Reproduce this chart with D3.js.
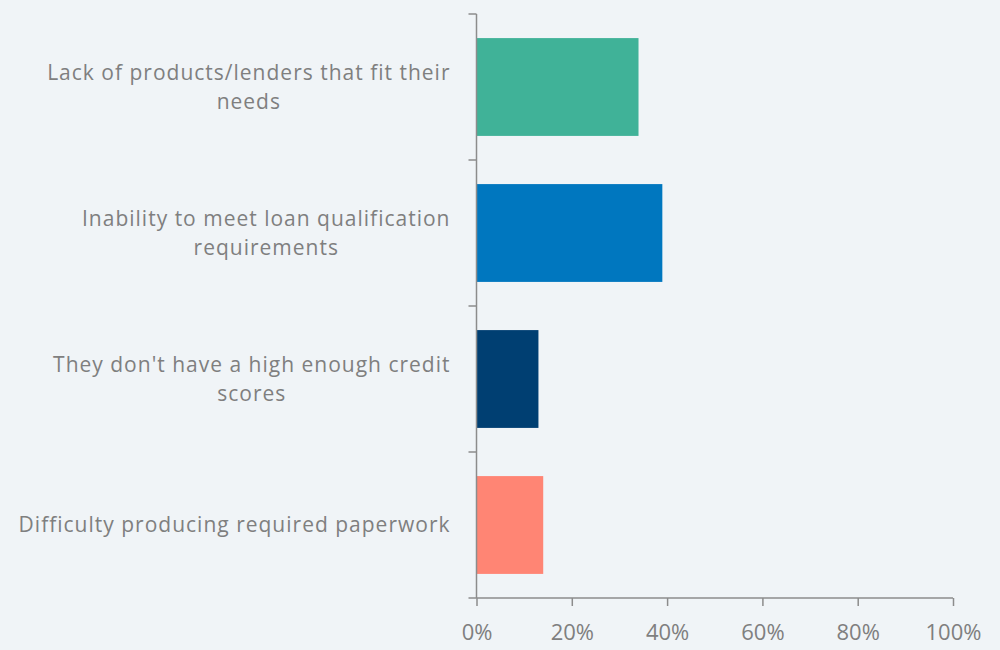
<!DOCTYPE html>
<html>
<head>
<meta charset="utf-8">
<script src="https://cdn.jsdelivr.net/npm/d3@7"></script>
<style>
  body { margin: 0; background: #f0f4f7; }
  svg { display: block; }
</style>
</head>
<body>
<svg id="chart"></svg>
<script>
// labels are split into the lines seen in the picture
const categories = [
  ["Lack of products/lenders that fit their", "needs"],
  ["Inability to meet loan qualification", "requirements"],
  ["They don't have a high enough credit", "scores"],
  ["Difficulty producing required paperwork"]
];
const values = [0.34, 0.39, 0.13, 0.14];
const barColors = ["#40b298", "#0077bf", "#003f72", "#ff8574"];
const xTicks = [0, 0.2, 0.4, 0.6, 0.8, 1.0];

const width = 1000, height = 650;
const margin = {top: 14, right: 47, bottom: 52, left: 476.5};

const svg = d3.select("#chart")
    .attr("width", width)
    .attr("height", height);

const chart = svg.append("g")
    .attr("transform", `translate(${margin.left}, ${margin.top})`);

const innerW = width - margin.left - margin.right;
const innerH = height - margin.top - margin.bottom;

const x = d3.scaleLinear().domain([0, 1]).range([0, innerW]);
const y = d3.scaleBand()
    .domain(d3.range(categories.length))
    .range([0, innerH])
    .paddingInner(0.33)
    .paddingOuter(0.165);

// bars
chart.append("g")
    .selectAll("rect")
    .data(values)
    .enter().append("rect")
    .attr("x", 0)
    .attr("y", (d, i) => y(i))
    .attr("width", d => x(d))
    .attr("height", y.bandwidth())
    .attr("fill", (d, i) => barColors[i]);

// x axis
const xAxis = chart.append("g")
    .attr("transform", `translate(0, ${innerH})`)
    .call(d3.axisBottom(x).tickValues(xTicks).tickFormat(d3.format(".0%")).tickSizeInner(8).tickSizeOuter(0).tickPadding(18));

// y axis: ticks at band boundaries
const step = innerH / categories.length;
const yAxis = chart.append("g");
yAxis.append("line")
    .attr("x1", 0).attr("x2", 0)
    .attr("y1", 0).attr("y2", innerH);
yAxis.selectAll(".ytick")
    .data(d3.range(categories.length + 1))
    .enter().append("line")
    .attr("class", "ytick")
    .attr("x1", -8).attr("x2", 0)
    .attr("y1", d => d * step).attr("y2", d => d * step);

svg.selectAll(".domain, .tick line, line")
    .attr("stroke", "#8c8c8c")
    .attr("stroke-width", 1.5);

xAxis.selectAll(".domain").attr("d", `M0,0H${innerW}`);
xAxis.selectAll(".tick text")
    .attr("fill", "#7f7f7f")
    .attr("font-family", "'Open Sans', sans-serif")
    .attr("font-size", 22);

// category labels, lines centred on the longest line, block right-aligned
const lineH = 29;
const labels = chart.append("g");
categories.forEach((lines, i) => {
  const cy = y(i) + y.bandwidth() / 2;
  const t = labels.append("text")
      .attr("fill", "#7f7f7f")
      .attr("font-family", "'Open Sans', sans-serif")
      .attr("font-size", 21)
      .attr("letter-spacing", 1)
      .attr("text-anchor", "middle");
  const spans = lines.map((s, j) => t.append("tspan")
      .attr("y", cy + (j - (lines.length - 1) / 2) * lineH)
      .attr("dy", "0.35em")
      .text(s));
  const maxW = d3.max(spans, sp => sp.node().getComputedTextLength());
  spans.forEach(sp => sp.attr("x", -26 - maxW / 2));
});
</script>
</body>
</html>
